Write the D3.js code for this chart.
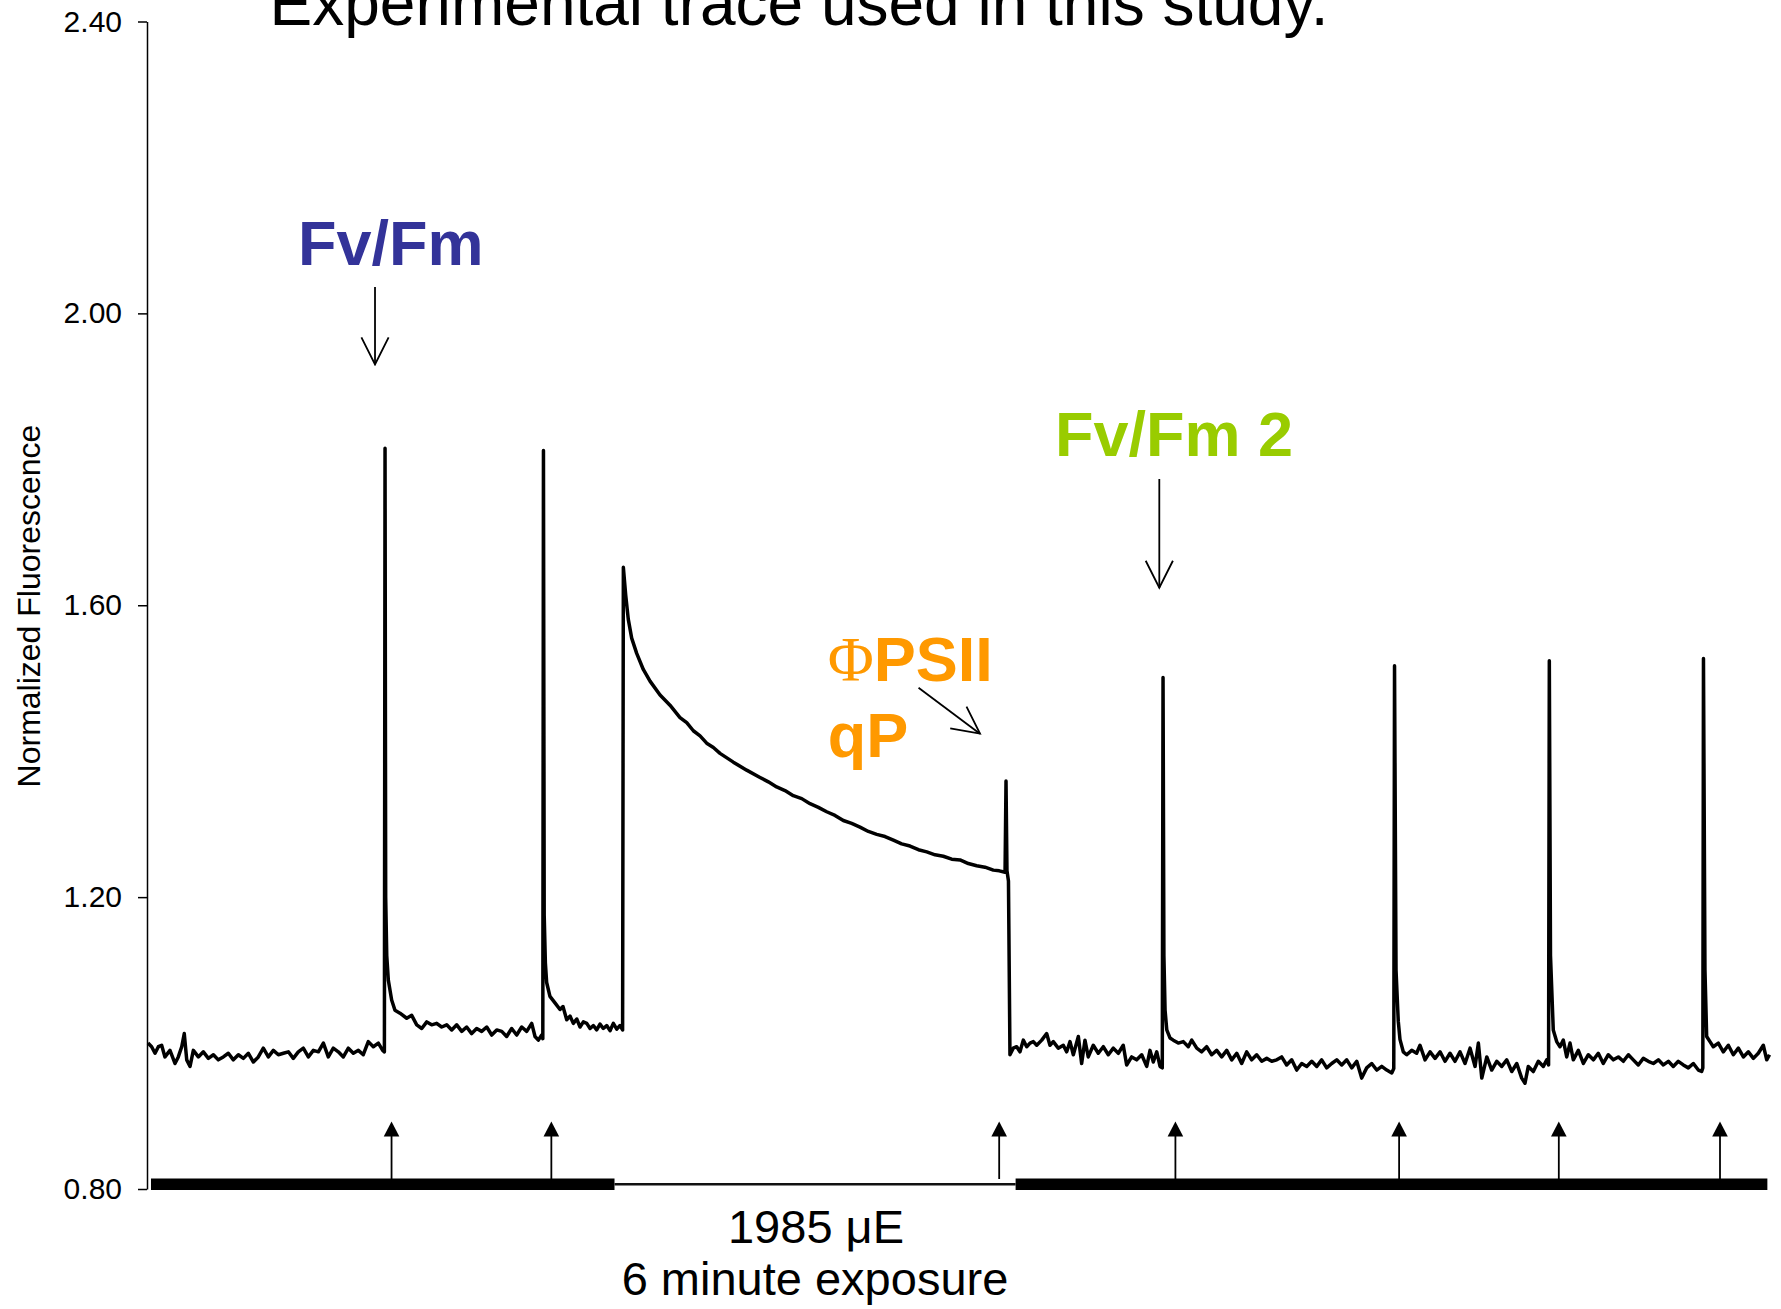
<!DOCTYPE html>
<html>
<head>
<meta charset="utf-8">
<script src="https://cdn.jsdelivr.net/npm/d3@7"></script>
<style>
  body { margin: 0; background: #fff; }
  text { font-family: "Liberation Sans", Arial, sans-serif; }
</style>
</head>
<body>
<script>
// fluorescence trace, [time (s), normalized fluorescence]
const darkStart = [[0,1.000],[3.4,0.995],[6.6,0.986],[9.7,0.995],[12.8,0.997],[15.9,0.981],[20.6,0.990],[25.3,0.972],[28.4,0.981],[31.6,0.995],[34.0,1.013],[36.3,0.977],[39.4,0.968],[42.5,0.990],[47.2,0.981],[51.9,0.988],[56.6,0.979],[61.3,0.984],[65.9,0.977],[70.6,0.981],[75.3,0.986],[80.0,0.977],[84.7,0.984],[89.4,0.979],[94.1,0.986],[98.8,0.974],[103.4,0.981],[108.1,0.993],[112.8,0.981],[117.5,0.990],[122.2,0.984],[126.9,0.986],[131.6,0.988],[136.2,0.979],[140.9,0.988],[145.6,0.993],[150.3,0.981],[155.0,0.990],[159.7,0.988],[164.4,1.000],[169.0,0.981],[173.7,0.993],[178.4,0.988],[183.1,0.981],[187.8,0.993],[192.5,0.986],[197.2,0.990],[201.8,0.984],[206.5,1.002],[211.2,0.995],[215.9,1.000],[220.0,0.990],[221.6,0.988]];

const pulse1 = [[222.2,1.815],[222.8,1.200],[223.8,1.120],[225.3,1.086],[228.4,1.059],[231.5,1.045],[236.2,1.041],[242.5,1.034],[247.2,1.038],[251.9,1.025],[256.6,1.020],[261.3,1.029],[265.9,1.025],[270.6,1.027],[275.3,1.022],[280.0,1.025],[284.7,1.018],[289.4,1.025],[294.1,1.016],[298.7,1.022],[303.4,1.013],[308.1,1.020],[312.8,1.016],[317.5,1.022],[322.2,1.011],[326.9,1.018],[331.6,1.016],[336.2,1.009],[340.9,1.020],[345.6,1.011],[350.3,1.022],[355.0,1.016],[359.7,1.027],[362.8,1.009],[365.9,1.004],[369.1,1.011],[370.1,1.006]];

const pulse2 = [[370.7,1.812],[371.4,1.175],[372.5,1.110],[373.7,1.083],[376.8,1.064],[381.5,1.055],[386.2,1.046],[389.0,1.050],[392.5,1.032],[395.6,1.037],[398.7,1.027],[401.9,1.033],[405.0,1.022],[408.1,1.029],[411.3,1.027],[414.4,1.020],[417.5,1.024],[420.6,1.018],[423.7,1.026],[426.8,1.020],[430.0,1.024],[433.1,1.017],[436.2,1.027],[439.4,1.019],[442.5,1.024],[444.9,1.018]];

const actinic = [[445.6,1.652],[447.8,1.614],[450.2,1.581],[453.4,1.555],[458.1,1.534],[464.3,1.512],[470.6,1.496],[480.0,1.477],[489.3,1.463],[498.7,1.446],[505.0,1.439],[511.2,1.428],[517.5,1.421],[523.7,1.411],[530.0,1.405],[536.2,1.397],[548.7,1.385],[561.2,1.374],[573.7,1.364],[581.5,1.358],[589.3,1.351],[597.1,1.346],[604.9,1.339],[612.8,1.335],[620.6,1.328],[628.4,1.323],[636.2,1.317],[644.0,1.312],[651.8,1.305],[659.6,1.301],[667.4,1.296],[675.3,1.290],[683.1,1.286],[690.9,1.283],[698.7,1.278],[706.5,1.273],[714.3,1.270],[722.2,1.265],[730.0,1.262],[737.8,1.258],[745.5,1.256],[753.4,1.252],[761.2,1.251],[769.0,1.246],[776.8,1.243],[784.6,1.241],[792.4,1.237],[798.0,1.236],[803.4,1.234]];

const lightOff = [[804.3,1.359],[805.2,1.236],[806.6,1.222],[808.0,0.984],[811.1,0.993],[814.3,0.995],[817.4,0.988],[820.5,1.004],[823.7,0.995],[826.8,1.000],[829.9,1.002],[833.1,0.997],[837.8,1.004],[842.4,1.013],[845.5,0.997],[848.6,1.002],[853.3,0.993],[858.0,0.997],[861.2,0.988],[864.3,1.002],[867.4,0.984],[872.1,1.009],[875.2,0.972],[878.3,1.004],[881.4,0.981],[886.1,0.997],[890.8,0.986],[895.5,0.995],[900.2,0.984],[904.9,0.993],[909.6,0.986],[914.2,0.997],[917.4,0.970],[922.1,0.981],[926.8,0.977],[931.5,0.984],[936.2,0.968],[939.3,0.990],[942.4,0.974],[945.6,0.988],[948.7,0.968],[950.8,0.966]];

const pulse3 = [[951.5,1.501],[952.3,1.120],[953.4,1.045],[955.0,1.018],[958.0,1.007],[961.1,1.004],[965.8,1.000],[970.5,1.002],[975.2,0.995],[978.4,1.004],[983.1,0.993],[987.7,0.988],[992.4,0.995],[997.1,0.984],[1001.8,0.990],[1006.5,0.981],[1011.2,0.990],[1015.9,0.977],[1020.6,0.986],[1025.2,0.972],[1029.9,0.988],[1034.6,0.977],[1039.3,0.984],[1044.0,0.975],[1048.7,0.979],[1053.4,0.975],[1058.1,0.977],[1062.7,0.981],[1067.4,0.970],[1072.1,0.977],[1076.8,0.963],[1081.5,0.972],[1086.2,0.968],[1090.9,0.975],[1095.6,0.968],[1100.2,0.977],[1104.9,0.966],[1109.6,0.972],[1114.3,0.977],[1119.0,0.970],[1123.7,0.977],[1128.4,0.966],[1133.1,0.975],[1137.7,0.952],[1142.4,0.966],[1147.1,0.972],[1151.8,0.963],[1156.5,0.968],[1161.2,0.963],[1165.9,0.959],[1167.8,0.965]];

const pulse4 = [[1168.5,1.517],[1169.9,1.100],[1172.0,1.030],[1173.6,1.005],[1176.7,0.988],[1179.9,0.984],[1184.6,0.990],[1189.2,0.986],[1192.4,0.997],[1197.1,0.977],[1201.8,0.988],[1206.5,0.979],[1211.2,0.988],[1215.8,0.975],[1220.5,0.986],[1225.2,0.975],[1229.9,0.988],[1234.6,0.972],[1239.3,0.993],[1244.0,0.968],[1247.1,1.000],[1250.3,0.952],[1255.0,0.981],[1259.6,0.963],[1264.3,0.975],[1269.0,0.968],[1273.7,0.977],[1278.4,0.961],[1283.1,0.972],[1287.7,0.952],[1290.8,0.945],[1293.9,0.968],[1298.6,0.961],[1303.3,0.975],[1308.0,0.968],[1311.2,0.977],[1312.9,0.970]];

const pulse5 = [[1313.6,1.524],[1314.7,1.120],[1317.3,1.018],[1320.5,1.002],[1323.6,0.995],[1326.7,1.004],[1329.9,0.981],[1333.0,1.000],[1336.1,0.977],[1340.8,0.990],[1345.5,0.972],[1350.2,0.984],[1354.9,0.977],[1359.5,0.986],[1364.2,0.972],[1368.9,0.984],[1373.6,0.977],[1378.3,0.981],[1383.0,0.975],[1387.7,0.984],[1392.3,0.977],[1397.0,0.970],[1401.7,0.979],[1406.4,0.975],[1411.1,0.972],[1415.8,0.977],[1420.5,0.970],[1425.2,0.975],[1429.8,0.968],[1434.5,0.975],[1439.2,0.970],[1443.9,0.966],[1448.6,0.972],[1453.3,0.963],[1456.4,0.961],[1457.5,0.966]];

const pulse6 = [[1458.1,1.527],[1459.5,1.100],[1461.1,1.009],[1464.2,1.002],[1467.3,0.995],[1472.0,1.000],[1476.7,0.988],[1481.4,0.997],[1486.1,0.984],[1490.8,0.993],[1495.5,0.981],[1500.2,0.988],[1504.9,0.979],[1509.5,0.986],[1514.2,0.997],[1517.4,0.977],[1520.0,0.984]];

const yTicks = [0.8, 1.2, 1.6, 2.0, 2.4];

// light regime bar under the trace (times in s)
const darkPeriods = [[2.8, 437.3], [813.3, 1518.0]];
const lightPeriods = [[437.3, 813.3]];
const pulseTimes = [228.3, 378.1, 797.9, 963.1, 1172.8, 1322.5, 1473.6];

// annotations, anchored in data units
const labels = [
  { text: "Fv/Fm", t: 140.6, v: 2.066, color: "#333399" },
  { text: "Fv/Fm 2", t: 850.2, v: 1.804, color: "#99cc00" },
  { text: "qP", t: 637.2, v: 1.392, color: "#ff9900" }
];
const phiLabel = { t: 637.2, v: 1.496, color: "#ff9900" };
const pointers = [
  { from: [212.8, 2.036], to: [212.8, 1.930] },
  { from: [948.0, 1.773], to: [948.0, 1.624] },
  { from: [722.3, 1.487], to: [779.9, 1.424] }
];

const W = 1781, H = 1309;
const svg = d3.select("body").append("svg")
  .attr("width", W).attr("height", H);

const x = d3.scaleLinear().domain([0, 1520]).range([148, 1769.5]);
const y = d3.scaleLinear().domain([0.8, 2.4]).range([1189, 21.5]);

// title (cut off at the top, as in the slide)
svg.append("text")
  .attr("x", 799).attr("y", 25)
  .attr("text-anchor", "middle")
  .style("font-size", "64px")
  .text("Experimental trace used in this study.");

// y axis
const yAxis = svg.append("g")
  .attr("transform", "translate(" + (x.range()[0] - 1) + ",0)")
  .call(d3.axisLeft(y).tickValues(yTicks).tickFormat(d3.format(".2f"))
    .tickSize(9).tickSizeOuter(0).tickPadding(16));
yAxis.select(".domain").attr("stroke", "#000").attr("stroke-width", 1.5);
yAxis.selectAll(".tick line").attr("stroke", "#000").attr("stroke-width", 1.5);
yAxis.selectAll(".tick text")
  .attr("fill", "#000")
  .style("font-size", "30px")
  .style("font-family", "'Liberation Sans', Arial, sans-serif");

svg.append("text")
  .attr("transform", "translate(40,606) rotate(-90)")
  .attr("text-anchor", "middle")
  .style("font-size", "32px")
  .text("Normalized Fluorescence");

// trace
const trace = [].concat(darkStart, pulse1, pulse2, actinic, lightOff, pulse3, pulse4, pulse5, pulse6);
const line = d3.line().x(d => x(d[0])).y(d => y(d[1]));
svg.append("path")
  .datum(trace)
  .attr("d", line)
  .attr("fill", "none")
  .attr("stroke", "#000")
  .attr("stroke-width", 3.5)
  .attr("stroke-linejoin", "round");

// light bar
const y0 = y(0.8);
svg.selectAll(".dark")
  .data(darkPeriods)
  .enter().append("rect")
  .attr("x", d => x(d[0]))
  .attr("y", y0 - 10.5)
  .attr("width", d => x(d[1]) - x(d[0]))
  .attr("height", 11.5)
  .attr("fill", "#000");
svg.selectAll(".light")
  .data(lightPeriods)
  .enter().append("line")
  .attr("x1", d => x(d[0])).attr("x2", d => x(d[1]))
  .attr("y1", y0 - 4.7).attr("y2", y0 - 4.7)
  .attr("stroke", "#111").attr("stroke-width", 2.5);

// saturating pulses
const pulses = svg.selectAll(".pulse").data(pulseTimes).enter().append("g");
pulses.append("line")
  .attr("x1", d => x(d)).attr("x2", d => x(d))
  .attr("y1", y0 - 10).attr("y2", y0 - 54)
  .attr("stroke", "#000").attr("stroke-width", 1.8);
pulses.append("path")
  .attr("d", d => "M" + (x(d) - 7.8) + "," + (y0 - 52.5) + "L" + x(d) + "," + (y0 - 67.5) + "L" + (x(d) + 7.8) + "," + (y0 - 52.5) + "Z")
  .attr("fill", "#000");

svg.append("text")
  .attr("x", 816).attr("y", 1243)
  .attr("text-anchor", "middle")
  .style("font-size", "47px")
  .text("1985 \u03BCE");
svg.append("text")
  .attr("x", 815).attr("y", 1295)
  .attr("text-anchor", "middle")
  .style("font-size", "47px")
  .text("6 minute exposure");

// annotation labels
svg.selectAll(".label")
  .data(labels)
  .enter().append("text")
  .attr("x", d => x(d.t)).attr("y", d => y(d.v))
  .attr("fill", d => d.color)
  .style("font-size", "63px")
  .style("font-weight", "bold")
  .text(d => d.text);

const phi = svg.append("text")
  .attr("x", x(phiLabel.t)).attr("y", y(phiLabel.v))
  .attr("fill", phiLabel.color)
  .style("font-size", "63px")
  .style("font-weight", "bold");
phi.append("tspan")
  .style("font-family", "'Liberation Serif', 'Times New Roman', serif")
  .style("font-weight", "normal")
  .text("\u03A6");
phi.append("tspan").text("PSII");

// annotation arrows with open heads
svg.append("defs").append("marker")
  .attr("id", "openhead")
  .attr("viewBox", "-1 -15 30 30")
  .attr("refX", 27).attr("refY", 0)
  .attr("markerWidth", 30).attr("markerHeight", 30)
  .attr("markerUnits", "userSpaceOnUse")
  .attr("orient", "auto")
  .append("path")
  .attr("d", "M0,-13.6L27,0L0,13.6")
  .attr("fill", "none")
  .attr("stroke", "#000")
  .attr("stroke-width", 1.8);

svg.selectAll(".pointer")
  .data(pointers)
  .enter().append("line")
  .attr("x1", d => x(d.from[0])).attr("y1", d => y(d.from[1]))
  .attr("x2", d => x(d.to[0])).attr("y2", d => y(d.to[1]))
  .attr("stroke", "#000")
  .attr("stroke-width", 1.8)
  .attr("marker-end", "url(#openhead)");
</script>
</body>
</html>
